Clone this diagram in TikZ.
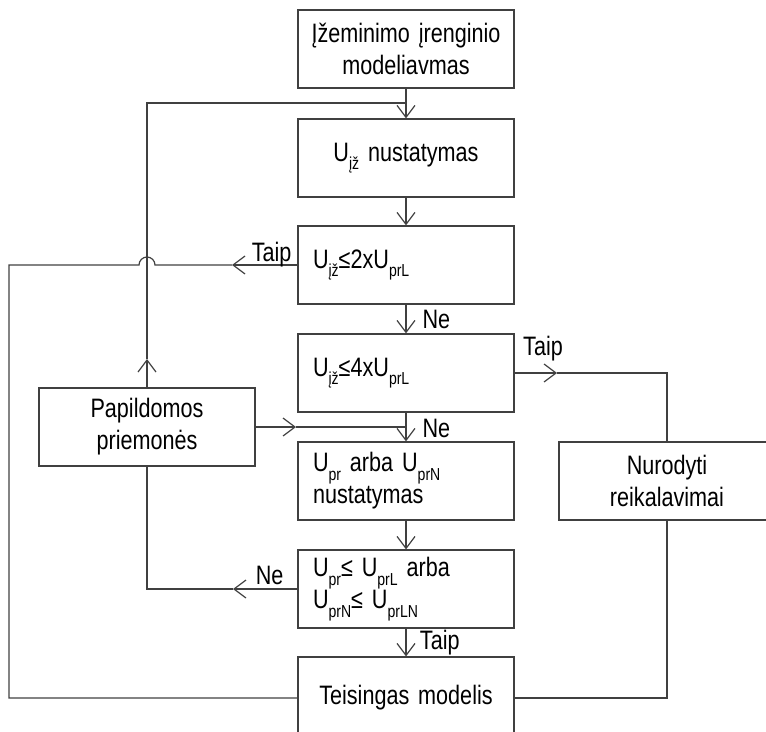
\documentclass[tikz,border=0pt]{standalone}
\usepackage{fontspec}
\setmainfont{Liberation Sans}[FakeStretch=0.81, WordSpace=0.7]
\usetikzlibrary{arrows.meta}

% subscript in the box texts
\newcommand{\sbs}[1]{\raisebox{-6.5pt}{\fontsize{13}{13}\selectfont #1}}

\tikzset{
  box/.style={draw, minimum width=162pt, minimum height=58.5pt, inner sep=0pt},
  boxl/.style={box, text width=139.5pt, align=left},
  boxc/.style={box, text width=150pt, align=center},
  lbl/.style={inner sep=0pt},
}

\begin{document}
\begin{tikzpicture}[x=0.75pt, y=-0.75pt, line width=0.9pt, draw=black!75,
    >={Straight Barb[length=9pt,width=13.5pt]},
    font=\fontsize{20}{24}\selectfont]
    % --- Rėmas ---
    \useasboundingbox (0,0) rectangle (766,731);
    \clip (0,0) rectangle (766,731);

    % --- Blokai ---
    \node[boxc] (model) at (406,49) {Įžeminimo įrenginio\\modeliavmas};
    \node[boxc] (uiz) at (406,158) {U\sbs{įž} nustatymas};
    \node[boxl] (c2) at (406,265) {U\sbs{įž}≤2xU\sbs{prL}};
    \node[boxl] (c4) at (406,373) {U\sbs{įž}≤4xU\sbs{prL}};
    \node[boxl] (upr) at (406,481) {U\sbs{pr} arba U\sbs{prN}\\nustatymas};
    \node[boxl] (cpr) at (406,589) {U\sbs{pr}≤ U\sbs{prL} arba\\U\sbs{prN}≤ U\sbs{prLN}};
    \node[boxc, minimum height=61.5pt] (ok) at (406,698) {Teisingas modelis};
    \node[boxc] (extra) at (147,427) {Papildomos\\priemonės};
    \node[boxc] (req) at (667,481) {Nurodyti\\reikalavimai};

    % --- Pagrindinė eiga ---
    \draw[->] (model) -- (uiz);
    \draw[->] (uiz) -- (c2);
    \draw[->] (c2) -- node[lbl, right=12pt] (ne1) {Ne} (c4);
    \draw[->] (c4) -- node[lbl, right=12pt, yshift=-1pt] (ne2) {Ne} (upr);
    \draw[->] (upr) -- (cpr);
    \draw[->] (cpr) -- node[lbl, right=10pt] (taip3) {Taip} (ok);

    % --- Taip: atgal į pradžią (su peršokimu) ---
    \coordinate (t2) at (232,265);
    \draw[->] (c2.west) -- (t2);
    \node[lbl, anchor=base east] (taip1) at ([xshift=-4pt, yshift=3pt]c2.west) {Taip};
    \draw (t2) -- (155,265) arc[start angle=0, end angle=-180, radius=8]
        -- (9,265) |- (ok.west);

    % --- Taip: reikalavimai ---
    \coordinate (t4) at (557,373);
    \draw[->] (c4.east) -- (t4);
    \node[lbl, anchor=base west] (taip2) at ([xshift=6pt, yshift=13.5pt]c4.east) {Taip};
    \draw (t4) -| (req.north);
    \draw (ok.east) -| (req.south);

    % --- Papildomos priemonės ---
    \coordinate (up) at (147,359);
    \coordinate (top) at (406,103);
    \draw[->] (extra.north) -- (up);
    \draw (up) |- (top);
    \coordinate (pe) at (296,427);
    \coordinate (join) at (406,427);
    \draw[->] (extra.east) -- (pe);
    \draw (pe) -- (join);

    % --- Ne: atgal į papildomas priemones ---
    \coordinate (n6) at (233,589);
    \draw[->] (cpr.west) -- (n6);
    \node[lbl, anchor=base east] (ne3) at ([xshift=-10pt, yshift=3.75pt]cpr.west) {Ne};
    \draw (n6) -| (extra.south);
\end{tikzpicture}
\end{document}
